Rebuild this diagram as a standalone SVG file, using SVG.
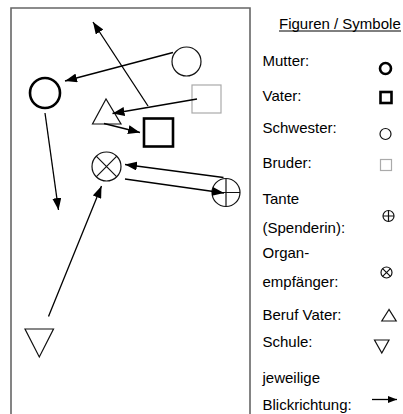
<svg xmlns="http://www.w3.org/2000/svg" width="403" height="414" viewBox="0 0 403 414">
  <style>
    .thin { fill: none; stroke: #111; stroke-width: 1.2; }
    .thick { fill: none; stroke: #000; stroke-width: 2.6; }
    .light { fill: none; stroke: #aaa; stroke-width: 1.2; }
    .link { stroke: #000; stroke-width: 1.3; fill: none; marker-end: url(#head); }
    .label { font-family: "Liberation Sans", Arial, sans-serif; font-size: 15px; fill: #000; }
  </style>
  <defs>
    <marker id="head" markerUnits="userSpaceOnUse" viewBox="0 0 12 9" refX="12" refY="4.5" markerWidth="12" markerHeight="9" orient="auto">
      <path d="M0,0 L12,4.5 L0,9 Z" fill="#000"/>
    </marker>
    <marker id="headSmall" markerUnits="userSpaceOnUse" viewBox="0 0 9 7" refX="9" refY="3.5" markerWidth="9" markerHeight="7" orient="auto">
      <path d="M0,0 L9,3.5 L0,7 Z" fill="#000"/>
    </marker>
  </defs>

  <rect width="403" height="414" fill="#fff"/>

  <!-- frame around the figure layout -->
  <path d="M11,420 L11,8 L250,8 L250,420" fill="none" stroke="#666" stroke-width="1.6"/>

  <!-- figures -->
  <g id="mutter"><circle class="thick" cx="45" cy="93" r="15"/></g>
  <g id="schwester"><circle class="thin" cx="186.5" cy="61.5" r="14.5"/></g>
  <g id="bruder"><rect class="light" x="192" y="85" width="29" height="28"/></g>
  <g id="vater"><rect class="thick" x="144" y="118.5" width="29" height="28"/></g>
  <g id="beruf-vater"><path class="thin" d="M106,99 L92.5,124 L121,124 Z"/></g>
  <g id="organempfaenger">
    <circle class="thin" cx="106.5" cy="166.5" r="14.5"/>
    <path class="thin" d="M96.2,156.2 L116.8,176.8 M116.8,156.2 L96.2,176.8"/>
  </g>
  <g id="tante">
    <circle class="thin" cx="226" cy="192.5" r="14"/>
    <path class="thin" d="M212,192.5 L240,192.5 M226,178.5 L226,206.5"/>
  </g>
  <g id="schule"><path class="thin" d="M25,329 L53.5,329 L39.3,357 Z"/></g>

  <!-- lines of sight -->
  <g id="connectors">
    <line class="link" x1="173" y1="52.5" x2="65" y2="81"/>
    <line class="link" x1="148" y1="106" x2="93" y2="22"/>
    <line class="link" x1="197" y1="99" x2="112.5" y2="113.5"/>
    <line class="link" x1="104" y1="123.5" x2="140" y2="132.5"/>
    <line class="link" x1="45" y1="113" x2="58.5" y2="210"/>
    <line class="link" x1="223.5" y1="177.5" x2="125" y2="164.5"/>
    <line class="link" x1="125" y1="179" x2="224" y2="193"/>
    <line class="link" x1="48.5" y1="316.5" x2="101.5" y2="186"/>
  </g>

  <!-- legend -->
  <g id="legende">
    <text class="label" x="279" y="28.5">Figuren / Symbole</text>
    <line x1="279" y1="31" x2="401" y2="31" stroke="#000" stroke-width="1"/>

    <text class="label" x="262.5" y="66">Mutter:</text>
    <circle class="thick" cx="385.5" cy="68.5" r="5.5" stroke-width="2.2"/>

    <text class="label" x="262.5" y="101">Vater:</text>
    <rect class="thick" x="380.5" y="92" width="11" height="11" stroke-width="2.2"/>

    <text class="label" x="262.5" y="133">Schwester:</text>
    <circle class="thin" cx="385.5" cy="134" r="5.5"/>

    <text class="label" x="262.5" y="168">Bruder:</text>
    <rect class="light" x="380.5" y="159.5" width="11" height="11"/>

    <text class="label" x="262.5" y="204">Tante</text>
    <text class="label" x="262.5" y="233">(Spenderin):</text>
    <circle class="thin" cx="388.5" cy="216" r="5.5"/>
    <path class="thin" d="M383,216 L394,216 M388.5,210.5 L388.5,221.5"/>

    <text class="label" x="262.5" y="258">Organ-</text>
    <text class="label" x="262.5" y="287">empfänger:</text>
    <circle class="thin" cx="386.5" cy="272.5" r="5.5"/>
    <path class="thin" d="M382.6,268.6 L390.4,276.4 M390.4,268.6 L382.6,276.4"/>

    <text class="label" x="262.5" y="320">Beruf Vater:</text>
    <path class="thin" d="M389,309.5 L381.8,321 L396.2,321 Z"/>

    <text class="label" x="262.5" y="347">Schule:</text>
    <path class="thin" d="M374.5,340 L389,340 L381.8,353 Z"/>

    <text class="label" x="262.5" y="383">jeweilige</text>
    <text class="label" x="262.5" y="410">Blickrichtung:</text>
    <line x1="372" y1="399.5" x2="397" y2="399.5" stroke="#000" stroke-width="1.3" marker-end="url(#headSmall)"/>
  </g>
</svg>
